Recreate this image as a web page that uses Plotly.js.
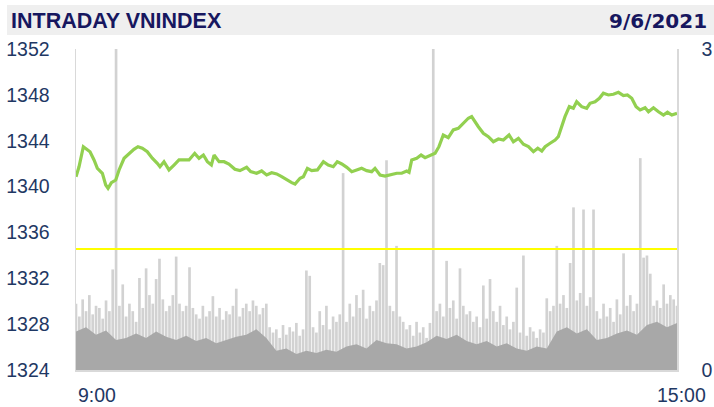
<!DOCTYPE html>
<html>
<head>
<meta charset="utf-8">
<script src="https://cdn.plot.ly/plotly-3.0.1.min.js"></script>
<style>html,body{margin:0;padding:0;background:#fff}#chart{width:714px;height:407px}</style>
</head>
<body>
<div id="chart"></div>
<script>
// ---- data (minutes after 9:00) ----
const priceTimes = [0,1.8,4.4,6.8,8.4,10.8,12.8,15.8,17.8,19.2,21.2,23.8,25.8,28.8,31.8,34.7,37.1,39.7,42.7,45.7,48.7,50.3,52.7,55.7,58.7,61.7,64.7,67.7,71.1,73.7,76.3,78.7,81.1,82.7,85.7,88.7,91.6,94.2,
95.2,98.2,102.2,104.6,108.2,111.2,114.2,117.2,120.2,123.2,126.2,129.2,131.2,134.2,136.2,138.6,141.2,144.6,148.2,151.1,154.1,156.5,159.2,162.2,165.2,168.2,171.1,174.1,177.1,179.1,182.1,185.1,187.7,
189.1,192.1,195.1,198.1,199.5,201.1,204.1,206.7,209.1,212.1,215.1,217.4,220,223,226,229,232,235,237,239,241,244,247,250,253,256,259.4,262,265,268,271,274,276.6,279,
281,284,287,288.9,290.9,292.9,295.5,297.9,299.9,302.9,305.9,307.9,310.9,313.5,315.9,318.9,321.9,324.9,327.9,330.3,332.9,335.5,337.9,340.9,342.9,345.9,348.9,351.9,354.3,356.9,360];
const priceValues = [1340.86,1341.73,1343.48,1343.19,1343.04,1342.32,1341.59,1341.16,1340.14,1339.85,1340.34,1340.57,1341.45,1342.47,1342.90,1343.25,1343.48,1343.34,1343.04,1342.47,1342.03,1341.73,1342.17,1341.45,1341.88,1342.32,1342.32,1342.32,1342.90,1342.47,1342.75,1342.17,1341.88,1342.75,1342.17,1342.17,1341.97,1341.68,
1341.51,1341.39,1341.68,1341.30,1341.16,1341.36,1341.01,1341.21,1341.10,1340.86,1340.57,1340.34,1340.22,1340.72,1340.86,1341.59,1341.39,1341.45,1342.17,1341.88,1341.73,1342.17,1341.97,1341.68,1341.30,1341.45,1341.59,1341.39,1341.30,1341.59,1341.01,1340.92,1341.01,
1341.07,1341.16,1341.16,1341.36,1341.25,1342.32,1342.47,1342.75,1342.52,1342.69,1342.90,1343.48,1344.50,1344.26,1344.94,1345.08,1345.52,1345.96,1346.10,1345.61,1345.22,1344.65,1344.35,1343.91,1344.15,1344.06,1344.50,1343.91,1344.21,1343.69,1343.48,1343.04,1343.34,1343.10,
1343.48,1343.78,1344.06,1344.35,1345.22,1346.10,1346.97,1346.83,1347.40,1346.97,1346.83,1347.26,1347.40,1347.70,1348.14,1347.99,1348.05,1348.22,1347.93,1347.99,1347.70,1346.97,1346.68,1346.88,1346.53,1346.88,1346.53,1346.24,1346.48,1346.24,1346.39];
const refPrice = 1334.55;
// volume (bars every 2 minutes)
const volumeValues = [0.62,0.50,0.66,0.55,0.70,0.52,0.60,0.58,0.48,0.65,
0.55,0.94,3.2,0.60,0.80,0.50,0.62,0.55,0.45,0.86,
0.58,0.95,0.70,0.62,0.85,1.04,0.66,0.55,0.60,0.70,
1.06,0.62,0.55,0.60,0.96,0.58,0.52,0.48,0.60,0.50,
0.55,0.69,0.50,0.58,0.47,0.55,0.52,0.60,0.76,0.50,
0.58,0.62,0.55,0.65,0.60,0.52,0.58,0.62,0.40,0.35,
0.38,0.30,0.42,0.33,0.40,0.36,0.44,0.32,0.38,0.93,
0.88,0.40,0.35,0.55,0.42,0.60,0.38,0.50,0.45,0.52,
1.84,0.45,0.62,0.50,0.70,0.58,0.75,0.48,0.60,0.55,
0.65,1.00,0.98,1.96,0.60,0.55,1.16,0.50,0.45,0.38,
0.42,0.32,0.45,0.35,0.40,0.30,0.44,3.2,0.55,0.62,
0.50,1.02,0.58,0.65,0.48,0.95,0.60,0.52,0.55,0.45,
0.50,0.40,0.79,0.48,0.85,0.55,0.45,0.60,0.42,0.50,
0.38,0.45,0.77,0.35,1.07,0.32,0.40,0.36,0.30,0.38,
0.35,0.67,0.55,0.60,1.16,0.62,0.70,0.58,1.00,1.52,
0.65,0.72,1.50,0.60,0.68,1.50,0.55,0.48,0.62,0.50,
0.58,0.45,0.66,0.52,1.09,0.60,0.70,0.55,0.62,1.98,
1.05,1.07,0.90,0.60,0.65,0.58,0.80,0.62,0.70,0.66,
0.60];
const volumeTimes = volumeValues.map((_, i) => i * 2);
// typical (dense) volume level, every 6 minutes
const baseTimes = [0,6,12,18,24,30,36,42,48,54,60,66,72,78,84,90,96,102,108,114,120,126,132,138,144,150,156,162,168,174,180,186,192,198,204,210,216,222,228,234,240,246,252,258,264,270,276,282,288,294,300,306,312,318,324,330,336,342,348,354,360];
const baseValues = [0.36,0.40,0.33,0.37,0.28,0.30,0.34,0.30,0.36,0.31,0.28,0.32,0.27,0.30,0.25,0.28,0.31,0.33,0.38,0.30,0.18,0.20,0.15,0.18,0.16,0.19,0.17,0.22,0.24,0.20,0.28,0.25,0.24,0.20,0.22,0.26,0.32,0.29,0.33,0.27,0.24,0.27,0.22,0.25,0.20,0.18,0.22,0.20,0.36,0.40,0.34,0.38,0.28,0.30,0.34,0.37,0.33,0.42,0.45,0.40,0.44];
const xTickLabels = ['9:00', '15:00'];
const leftTicks = [1324, 1328, 1332, 1336, 1340, 1344, 1348, 1352];
const rightTicks = [0, 3];
const titleText = 'INTRADAY VNINDEX';
const dateText = '9/6/2021';

const axisFont = {family: 'Liberation Sans, Arial, sans-serif', size: 19.5, color: '#1F3864'};
const navy = '#17175F';

const traces = [
  {x: volumeTimes, y: volumeValues, type: 'bar', yaxis: 'y', marker: {color: '#d2d2d2', line: {width: 0}}, hoverinfo: 'skip'},
  {x: baseTimes, y: baseValues, type: 'scatter', mode: 'lines', yaxis: 'y', fill: 'tozeroy', fillcolor: '#a8a8a8', line: {width: 0, color: '#a8a8a8'}, hoverinfo: 'skip'},
  {x: priceTimes, y: priceValues, type: 'scatter', mode: 'lines', yaxis: 'y2', line: {color: '#92D050', width: 3.2}}
];

const L = 76, R = 677, T = 49, B = 370;
const px = v => (v - L) / (R - L);
const py = v => (B - v) / (B - T);

const layout = {
  width: 714, height: 407,
  margin: {l: L, r: 714 - R, t: T, b: 407 - B, pad: 0},
  paper_bgcolor: '#ffffff', plot_bgcolor: '#ffffff',
  showlegend: false,
  bargap: 0.2,
  xaxis: {range: [0, 360], showgrid: false, zeroline: false, showticklabels: false, ticks: '',
          showline: true, linecolor: '#d9d9d9', linewidth: 1.5},
  yaxis: {side: 'right', range: [0, 3], tickvals: rightTicks, showgrid: false, zeroline: false,
          ticks: '', ticklabelstandoff: 19, tickfont: axisFont, showline: true, linecolor: '#d9d9d9', linewidth: 1.5},
  yaxis2: {side: 'left', overlaying: 'y', range: [1324, 1352], tickvals: leftTicks, showgrid: false, zeroline: false,
           ticks: '', ticklabelstandoff: 21, tickfont: axisFont, showline: true, linecolor: '#d9d9d9', linewidth: 1.5},
  shapes: [
    {type: 'rect', xref: 'paper', yref: 'paper', x0: px(7), x1: px(714), y0: py(35), y1: py(5), fillcolor: '#efefef', line: {width: 0}, layer: 'below'},
    {type: 'line', xref: 'x', yref: 'y2', x0: 0, x1: 360, y0: refPrice, y1: refPrice, line: {color: '#FFFF00', width: 2}}
  ],
  annotations: [
    {text: '<b>' + titleText + '</b>', xref: 'paper', yref: 'paper', x: px(9), y: py(21), xanchor: 'left', yanchor: 'middle', showarrow: false,
     font: {family: 'Liberation Sans, Arial, sans-serif', size: 21.5, color: navy}},
    {text: '<b>' + dateText + '</b>', xref: 'paper', yref: 'paper', x: px(709), y: py(21), xanchor: 'right', yanchor: 'middle', showarrow: false,
     font: {family: 'DejaVu Sans, sans-serif', size: 20, color: navy}},
    {text: xTickLabels[0], xref: 'paper', yref: 'paper', x: px(76), y: py(395), xanchor: 'left', yanchor: 'middle', showarrow: false, font: axisFont},
    {text: xTickLabels[1], xref: 'paper', yref: 'paper', x: px(708), y: py(395), xanchor: 'right', yanchor: 'middle', showarrow: false, font: axisFont}
  ]
};

Plotly.newPlot('chart', traces, layout, {staticPlot: true, displayModeBar: false});
</script>
</body>
</html>
